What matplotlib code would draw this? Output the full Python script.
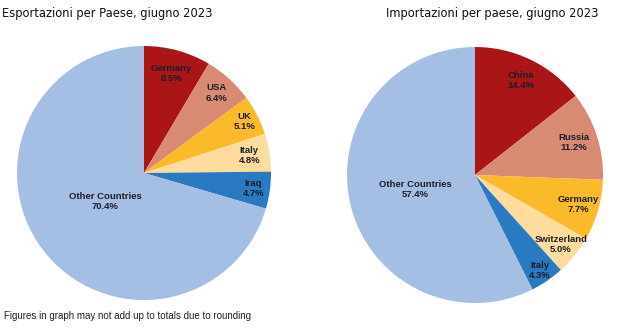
import numpy as np
import matplotlib
matplotlib.use('Agg')
import matplotlib.pyplot as plt

# dati
exp_labels = ['Germany', 'USA', 'UK', 'Italy', 'Iraq', 'Other Countries']
exp_values = [8.5, 6.4, 5.1, 4.8, 4.7, 70.4]
imp_labels = ['China', 'Russia', 'Germany', 'Switzerland', 'Italy', 'Other Countries']
imp_values = [14.4, 11.2, 7.7, 5.0, 4.3, 57.4]

colors = ['#AA1517', '#D98A73', '#FBBA2A', '#FDDC9E', '#2A7AC1', '#A5BEE3']
exp_dist = [0.81, 0.85, 0.89, 0.84, 0.87, 0.38]
imp_dist = [0.82, 0.81, 0.84, 0.86, 0.90, 0.48]

W, H = 642, 334
fig = plt.figure(figsize=(W / 100, H / 100), dpi=100)


def draw_pie(cx, cy, r, values, labels, dists):
    ax = fig.add_axes([(cx - r) / W, (H - cy - r) / H, 2 * r / W, 2 * r / H])
    wedges, _ = ax.pie(values, colors=colors, startangle=90, counterclock=False,
                       radius=1, wedgeprops=dict(linewidth=0))
    for w, lab, val, d in zip(wedges, labels, values, dists):
        ang = np.deg2rad((w.theta1 + w.theta2) / 2)
        ax.text(d * np.cos(ang), d * np.sin(ang), f'{lab}\n{val:.1f}%',
                ha='center', va='center', fontsize=6.8, fontweight='bold',
                family='Liberation Sans', color='#1E1E2A', linespacing=1.15)
    ax.set_xlim(-1, 1)
    ax.set_ylim(-1, 1)
    return ax


draw_pie(144, 173, 127, exp_values, exp_labels, exp_dist)
draw_pie(475, 175, 128, imp_values, imp_labels, imp_dist)

fig.text(2 / W, 1 - 14 / H, 'Esportazioni per Paese, giugno 2023', ha='left', va='center',
         fontsize=8.3, family='DejaVu Sans', color='#111111')
fig.text(492 / W, 1 - 14 / H, 'Importazioni per paese, giugno 2023', ha='center', va='center',
         fontsize=8.3, family='DejaVu Sans', color='#111111')
fig.text(4 / W, 1 - 316 / H, 'Figures in graph may not add up to totals due to rounding',
         ha='left', va='center', fontsize=7.0, family='Liberation Sans', color='#222222')

fig.savefig('out.png', dpi=100)
